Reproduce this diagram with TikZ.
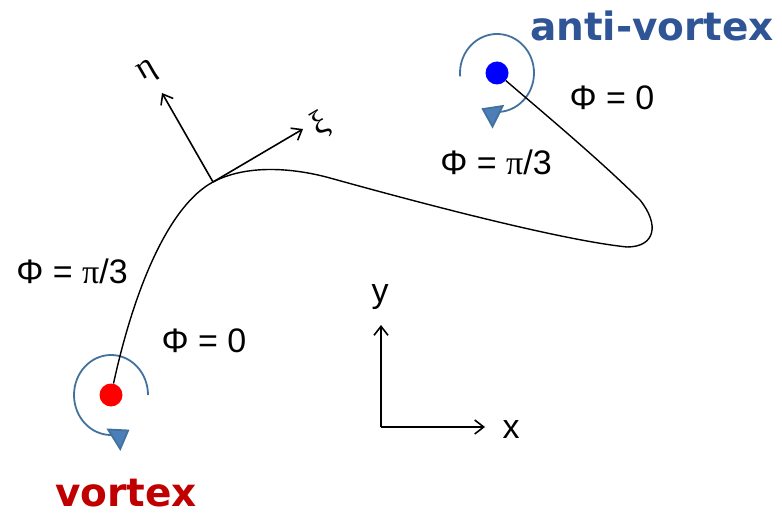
\documentclass[tikz,border=0pt]{standalone}
\usepackage{fontspec}
\setmainfont{Liberation Sans}
\newfontfamily\greekfont{Liberation Serif}
\newfontfamily\labelfont{DejaVu Sans}
\usetikzlibrary{arrows.meta}
\definecolor{VortexRed}{RGB}{192, 0, 0}
\definecolor{AntiBlue}{RGB}{47, 85, 151}
\definecolor{SpinBlue}{RGB}{65, 113, 156}
\definecolor{TipBlue}{RGB}{76, 126, 186}

\tikzset{
  core/.style={circle, inner sep=0pt, minimum size=23pt},
  spin/.style={SpinBlue, line width=1.8pt, -{Triangle[length=19pt, width=26pt, fill=TipBlue]}},
  axis/.style={line width=1.6pt, -{Straight Barb[length=9pt, width=14pt]}},
  phase/.style={font=\fontsize{34}{38}\selectfont, anchor=base},
  greek/.style={font=\greekfont\fontsize{34}{38}\selectfont, rotate=30},
  title/.style={font=\labelfont\bfseries\fontsize{39}{44}\selectfont, anchor=base},
}

\begin{document}
\begin{tikzpicture}[x=1pt, y=1pt]
    \useasboundingbox (0,0) rectangle (782,515);

    % Cores
    \node[core, fill=red] (vcore) at (111,120) {};
    \node[core, fill=blue] (acore) at (497,442) {};

    % Winding around the cores
    \draw[spin] (111,120) ++(0:37 and 40) arc[start angle=0, end angle=300, x radius=37, y radius=40];
    \draw[spin] (497,442) ++(185:37 and 39) arc[start angle=185, end angle=-115, x radius=37, y radius=39];

    % Wall line
    \coordinate (o) at (213,333);
    \coordinate (top) at (330,337);
    \coordinate (low) at (627,268);
    \coordinate (turn) at (640,315);
    \draw[line width=1.4pt] (vcore) .. controls (135,230) and (170,310) .. (o)
        .. controls (245,350) and (290,348) .. (top)
        .. controls (420,312) and (560,275) .. (low)
        .. controls (655,268) and (660,290) .. (turn)
        .. controls (600,355) and (540,405) .. (acore);

    % Local frame
    \coordinate (etaend) at (162,422);
    \coordinate (xiend) at (303,386);
    \draw[axis] (o) -- (etaend);
    \draw[axis] (o) -- (xiend);
    \node[greek] (eta) at (148,443) {η};
    \node[greek] (xi) at (321,390) {ξ};

    % Lab frame
    \coordinate (lab) at (381,88);
    \coordinate (xend) at (485,88);
    \coordinate (yend) at (381,190);
    \draw[axis] (lab) -- (xend);
    \draw[axis] (lab) -- (yend);
    \node[phase] (xlabel) at (511,77) {x};
    \node[phase] (ylabel) at (380,213) {y};

    % Phase labels
    \node[phase] (phitl) at (612,405) {Φ = 0};
    \node[phase] (phitm) at (496,340) {Φ = {\greekfont π}/3};
    \node[phase] (phil) at (72,232) {Φ = {\greekfont π}/3};
    \node[phase] (phib) at (204,163) {Φ = 0};

    % Names
    \node[title, text=AntiBlue] (anti) at (652,474) {anti-vortex};
    \node[title, text=VortexRed] (vort) at (126,9) {vortex};
\end{tikzpicture}
\end{document}
